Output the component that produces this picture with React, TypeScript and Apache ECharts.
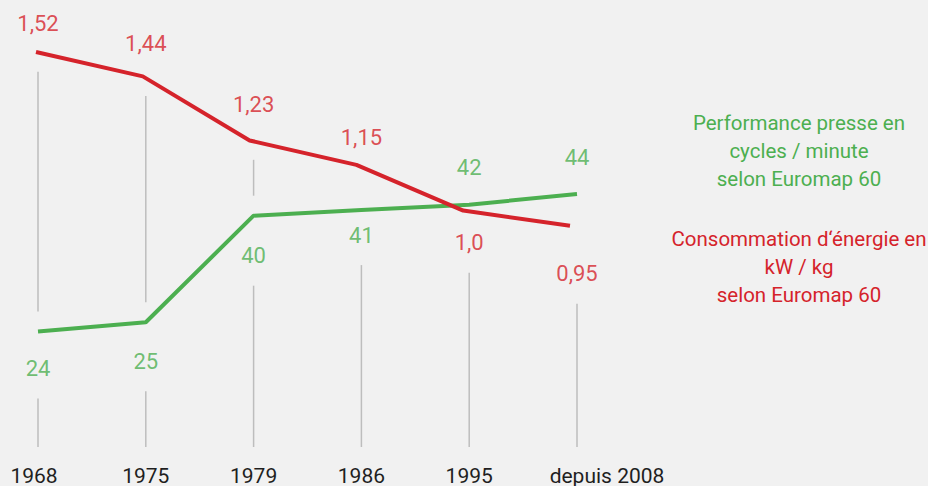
import React, { useEffect, useRef } from "react";
import * as echarts from "echarts";

const categories = ["1968", "1975", "1979", "1986", "1995", "depuis 2008"];
const performance = [24, 25, 40, 41, 42, 44];
const consumption = [1.52, 1.44, 1.23, 1.15, 1.0, 0.95];
const consumptionLabels = ["1,52", "1,44", "1,23", "1,15", "1,0", "0,95"];
const performanceText = "Performance presse en\ncycles / minute\nselon Euromap 60";
const consumptionText = "Consommation d\u2018énergie en\nkW / kg\nselon Euromap 60";

// label vertical shifts (px) relative to their points (style only)
const greenShift = [37, 39, 40, 25, -37, -37];
const redShift = [-28, -33, -35, -27, 33, 49];

const GREEN = "#4caf50";
const RED = "#d5232b";
const GRAY = "#bdbdbd";
const BG = "#f1f1f1";
const FONT = "Roboto";

export default function App() {
  const ref = useRef<HTMLDivElement>(null);
  useEffect(() => {
    if (!ref.current) return;
    const chart = echarts.init(ref.current, undefined, { renderer: "svg" });
    const option: any = {
      animation: false,
      backgroundColor: BG,
      textStyle: { fontFamily: FONT },
      grid: [
        { left: 38, right: 351, top: 0, height: 448 },
        { left: 36, right: 358, top: 0, height: 448 },
      ],
      xAxis: [
        {
          type: "category",
          gridIndex: 0,
          boundaryGap: false,
          data: categories.map((c, i) =>
            i === categories.length - 1
              ? { value: c, textStyle: { padding: [0, 0, 0, 60] } }
              : i === 0
              ? { value: c, textStyle: { padding: [0, 8, 0, 0] } }
              : c
          ),
          axisLine: { show: false },
          axisTick: { show: false },
          splitLine: { show: false },
          axisLabel: { color: "#1f1f1f", fontSize: 21, margin: 19, fontFamily: FONT, interval: 0 },
        },
        { type: "category", gridIndex: 1, boundaryGap: false, data: categories, show: false },
      ],
      yAxis: [
        { type: "log", gridIndex: 0, min: 14.48, max: 103.6, show: false },
        { type: "value", gridIndex: 0, min: 0.2216, max: 1.6905, show: false },
        { type: "value", gridIndex: 1, min: 0.2216, max: 1.6905, show: false },
      ],
      series: [
        {
          type: "line",
          xAxisIndex: 0,
          yAxisIndex: 0,
          data: performance,
          symbol: "none",
          lineStyle: { color: GREEN, width: 4 },
          z: 3,
        },
        {
          type: "line",
          xAxisIndex: 1,
          yAxisIndex: 2,
          data: consumption,
          symbol: "none",
          lineStyle: { color: RED, width: 4 },
          z: 4,
        },
        {
          type: "scatter",
          xAxisIndex: 0,
          yAxisIndex: 0,
          symbolSize: 1,
          itemStyle: { color: "rgba(0,0,0,0)" },
          data: performance.map((v, i) => ({ value: v, label: { offset: [0, greenShift[i]] } })),
          label: {
            show: true,
            position: "inside",
            color: GREEN,
            fontSize: 22,
            fontFamily: FONT,
            formatter: (p: any) => String(performance[p.dataIndex]),
          },
          z: 5,
        },
        {
          type: "scatter",
          xAxisIndex: 0,
          yAxisIndex: 1,
          symbolSize: 1,
          itemStyle: { color: "rgba(0,0,0,0)" },
          data: consumption.map((v, i) => ({ value: v, label: { offset: [0, redShift[i]] } })),
          label: {
            show: true,
            position: "inside",
            color: RED,
            fontSize: 22,
            fontFamily: FONT,
            formatter: (p: any) => consumptionLabels[p.dataIndex],
          },
          z: 5,
        },
      ],
    };
    chart.setOption(option);

    // vertical guide lines with gaps around points and labels
    const bottom = 447;
    const gap = 20;
    const labelHalf = 30;
    const lines: any[] = [];
    categories.forEach((_, i) => {
      const pg = chart.convertToPixel({ seriesIndex: 2 }, [i, performance[i]]) as number[];
      const pr = chart.convertToPixel({ seriesIndex: 3 }, [i, consumption[i]]) as number[];
      const x = pg[0];
      const yG = pg[1];
      const yR = pr[1];
      const start = Math.min(yG, yR) + gap;
      const obstacles: number[][] = [
        [yG - gap, yG + gap],
        [yR - gap, yR + gap],
        [yG + greenShift[i] - labelHalf, yG + greenShift[i] + labelHalf],
        [yR + redShift[i] - labelHalf, yR + redShift[i] + labelHalf],
      ].sort((a, b) => a[0] - b[0]);
      let cur = start;
      const segs: number[][] = [];
      for (const [a, b] of obstacles) {
        if (b <= cur) continue;
        if (a > cur) segs.push([cur, Math.min(a, bottom)]);
        cur = Math.max(cur, b);
      }
      if (cur < bottom) segs.push([cur, bottom]);
      segs
        .filter(([a, b]) => b - a >= 12)
        .forEach(([a, b]) =>
          lines.push({
            type: "line",
            silent: true,
            z: 0,
            shape: { x1: x, y1: a, x2: x, y2: b },
            style: { stroke: GRAY, lineWidth: 1.5 },
          })
        );
    });

    const legendStyle = {
      font: `20.5px ${FONT}`,
      textAlign: "center",
      textVerticalAlign: "middle",
      align: "center",
      verticalAlign: "middle",
      lineHeight: 28,
    };

    chart.setOption({
      graphic: [
        ...lines,
        {
          type: "text",
          x: 799,
          y: 151,
          style: { ...legendStyle, text: performanceText, fill: GREEN },
        },
        {
          type: "text",
          x: 799,
          y: 267,
          style: { ...legendStyle, text: consumptionText, fill: RED },
        },
      ],
    });

    return () => chart.dispose();
  }, []);
  return (
    <div
      ref={ref}
      style={{ position: "fixed", left: 0, top: 0, width: 928, height: 486, background: BG }}
    />
  );
}
